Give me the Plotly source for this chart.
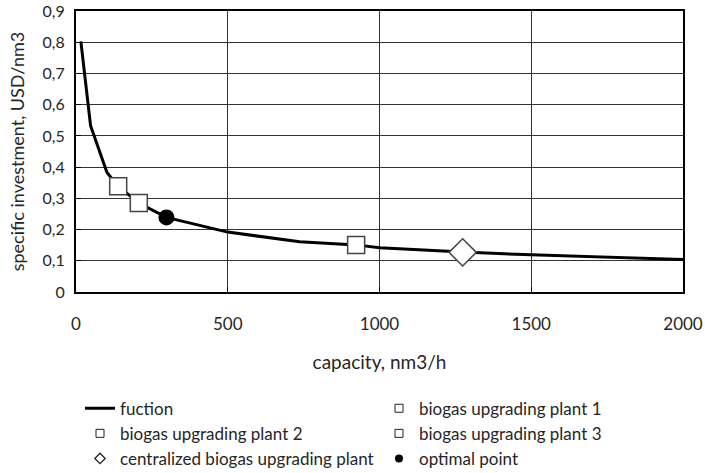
import plotly.graph_objects as go

# Function curve (capacity nm3/h -> specific investment USD/nm3)
func_x = [16, 48, 102, 139, 207, 298, 500, 737, 923, 1000, 1274, 1500, 2000]
func_y = [0.803, 0.533, 0.383, 0.339, 0.285, 0.239, 0.192, 0.161, 0.151, 0.142, 0.128, 0.119, 0.104]

plant1_x = [139]
plant1_y = [0.339]
plant2_x = [207]
plant2_y = [0.285]
plant3_x = [923]
plant3_y = [0.151]
central_x = [1274]
central_y = [0.127]
optimal_x = [298]
optimal_y = [0.239]

y_ticks = [0, 0.1, 0.2, 0.3, 0.4, 0.5, 0.6, 0.7, 0.8, 0.9]
y_ticktext = ["0", "0,1", "0,2", "0,3", "0,4", "0,5", "0,6", "0,7", "0,8", "0,9"]

FONT = "Lato"
TXT = "#262626"

fig = go.Figure()

fig.add_trace(go.Scatter(x=func_x, y=func_y, mode="lines", name="fuction",
                         line=dict(color="black", width=3)))

sq = dict(symbol="square", color="white", line=dict(color="#444", width=1.5))
fig.add_trace(go.Scatter(x=plant1_x, y=plant1_y, mode="markers", showlegend=False,
                         marker=dict(size=17, **sq)))
fig.add_trace(go.Scatter(x=plant2_x, y=plant2_y, mode="markers", showlegend=False,
                         marker=dict(size=17, **sq)))
fig.add_trace(go.Scatter(x=plant3_x, y=plant3_y, mode="markers", showlegend=False,
                         marker=dict(size=17, **sq)))
fig.add_trace(go.Scatter(x=central_x, y=central_y, mode="markers", showlegend=False,
                         marker=dict(size=21, symbol="diamond", color="white",
                                     line=dict(color="#444", width=1.5))))
fig.add_trace(go.Scatter(x=optimal_x, y=optimal_y, mode="markers", showlegend=False,
                         marker=dict(size=16, symbol="circle", color="black")))

# legend-only entries with small symbols
leg_sq = dict(symbol="square", color="white", size=8, line=dict(color="#222", width=1))
for nm in ["biogas upgrading plant 1", "biogas upgrading plant 2", "biogas upgrading plant 3"]:
    fig.add_trace(go.Scatter(x=[None], y=[None], mode="markers", name=nm, marker=leg_sq))
fig.add_trace(go.Scatter(x=[None], y=[None], mode="markers", name="centralized biogas upgrading plant",
                         marker=dict(symbol="diamond", color="white", size=8, line=dict(color="#222", width=1.3))))
fig.add_trace(go.Scatter(x=[None], y=[None], mode="markers", name="optimal point",
                         marker=dict(symbol="circle", color="black", size=8)))

fig.update_layout(
    width=705, height=473,
    margin=dict(l=76, r=22, t=11, b=181),
    paper_bgcolor="white", plot_bgcolor="white",
    separators=",.",
    font=dict(family=FONT, size=17, color=TXT),
    showlegend=True,
    legend=dict(orientation="h", x=0.0066, xanchor="left",
                yref="container", y=0.174, yanchor="top",
                entrywidth=254, entrywidthmode="pixels", traceorder="normal",
                font=dict(family=FONT, size=17, color=TXT), itemsizing="trace",
                bgcolor="rgba(0,0,0,0)"),
)

fig.update_xaxes(range=[0, 2000], dtick=500, tick0=0, automargin=False,
                 showgrid=True, gridcolor="#333", gridwidth=1,
                 showline=True, linecolor="black", linewidth=2, mirror=True,
                 ticks="inside", ticklen=5, tickcolor="black",
                 ticklabelstandoff=16, ticklabeloverflow="allow", zeroline=False,
                 title=dict(text="capacity, nm3/h", standoff=22,
                            font=dict(family=FONT, size=19, color=TXT)))
fig.update_yaxes(range=[0, 0.9005], tickmode="array", tickvals=y_ticks, ticktext=y_ticktext,
                 automargin=False, tickfont=dict(size=16),
                 showgrid=True, gridcolor="#333", gridwidth=1,
                 showline=True, linecolor="black", linewidth=2, mirror=True,
                 ticks="inside", ticklen=5, tickcolor="black",
                 ticklabelstandoff=6, ticklabeloverflow="allow", zeroline=False,
                 title=dict(text="specific investment, USD/nm3", standoff=13,
                            font=dict(family=FONT, size=18, color=TXT)))

fig.write_html("out.html")
